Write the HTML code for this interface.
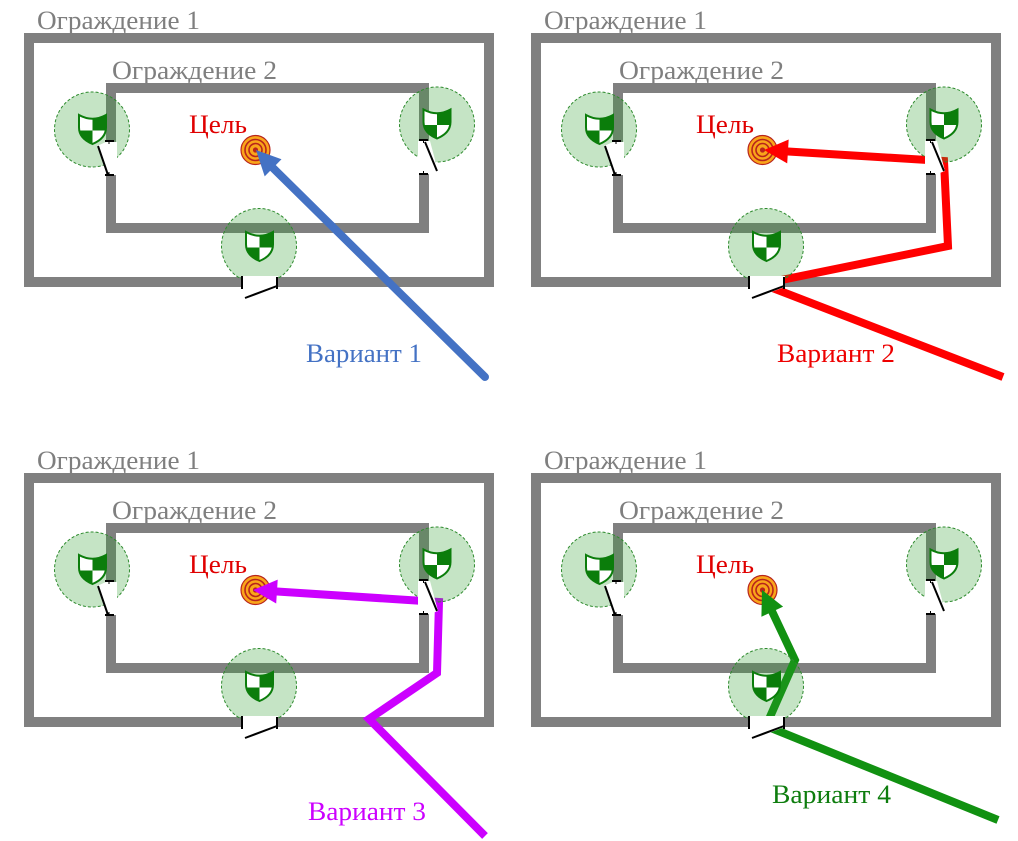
<!DOCTYPE html>
<html><head><meta charset="utf-8">
<style>html,body{margin:0;padding:0;background:#fff}svg{display:block}</style>
</head>
<body>
<svg width="1018" height="841" viewBox="0 0 1018 841" xmlns="http://www.w3.org/2000/svg" xmlns:xlink="http://www.w3.org/1999/xlink">
<defs>
  <clipPath id="sc"><path d="M-13.5,-14.5 Q0,-7 13.5,-14.5 L13.5,-2 C13.5,7 6,12 0,14.5 C-6,12 -13.5,7 -13.5,-2 Z"/></clipPath>
  <g id="shield">
    <path d="M-13.5,-14.5 Q0,-7 13.5,-14.5 L13.5,-2 C13.5,7 6,12 0,14.5 C-6,12 -13.5,7 -13.5,-2 Z" fill="#fff"/>
    <g clip-path="url(#sc)">
      <rect x="0" y="-16" width="15" height="17" fill="#0b7d0b"/>
      <rect x="-15" y="1" width="15" height="15" fill="#0b7d0b"/>
    </g>
    <path d="M-13.5,-14.5 Q0,-7 13.5,-14.5 L13.5,-2 C13.5,7 6,12 0,14.5 C-6,12 -13.5,7 -13.5,-2 Z" fill="none" stroke="#0b7d0b" stroke-width="2"/>
  </g>
  <g id="base">
    <rect x="29" y="38" width="460" height="244" fill="none" stroke="#808080" stroke-width="10"/>
    <rect x="111" y="88" width="313" height="140" fill="none" stroke="#808080" stroke-width="10"/>
    <g transform="translate(255.5,150)">
      <circle r="14.5" fill="#f9a51a" stroke="#b8241c" stroke-width="1.2"/>
      <circle r="10.5" fill="none" stroke="#b8241c" stroke-width="1.6"/>
      <circle r="6.5" fill="none" stroke="#b8241c" stroke-width="1.6"/>
      <circle r="2.6" fill="#b8241c"/>
    </g>
  </g>
  <g id="top">
    <g fill="#2e9e2e" fill-opacity="0.28" stroke="#2e8b2e" stroke-width="1" stroke-dasharray="3 2">
      <circle cx="92" cy="129.5" r="37.5"/>
      <circle cx="437" cy="124.5" r="37.5"/>
      <circle cx="259" cy="246" r="37.5"/>
    </g>
    <use xlink:href="#shield" href="#shield" transform="translate(92.5,129.5)"/>
    <use xlink:href="#shield" href="#shield" transform="translate(437,124)"/>
    <use xlink:href="#shield" href="#shield" transform="translate(259.5,246.5)"/>
    <g fill="#fff">
      <polygon points="117,142 106,142 97,146 107,175 117,175"/>
      <polygon points="418,141 430,141 438,171 430,174 418,174"/>
      <polygon points="241,276 278,276 278,287 245,299 241,289"/>
    </g>
    <g stroke="#000" fill="none">
      <line x1="105" y1="141" x2="114" y2="141" stroke-width="2"/>
      <line x1="109" y1="141" x2="109" y2="144" stroke-width="1"/>
      <line x1="105" y1="175" x2="114" y2="175" stroke-width="2"/>
      <line x1="109" y1="172" x2="109" y2="175" stroke-width="1"/>
      <line x1="98" y1="146" x2="108" y2="175" stroke-width="2"/>

      <line x1="419" y1="140" x2="428" y2="140" stroke-width="2"/>
      <line x1="423.5" y1="140" x2="423.5" y2="143" stroke-width="1"/>
      <line x1="419" y1="174" x2="428" y2="174" stroke-width="2"/>
      <line x1="423.5" y1="171" x2="423.5" y2="174" stroke-width="1"/>
      <line x1="425" y1="142" x2="437" y2="171" stroke-width="2"/>

      <line x1="242" y1="276" x2="242" y2="289" stroke-width="2"/>
      <line x1="277" y1="277" x2="277" y2="289" stroke-width="2"/>
      <line x1="245" y1="298" x2="277" y2="286" stroke-width="2"/>
    </g>
  </g>
</defs>

<g font-family="'Liberation Serif', 'Noto Serif CJK SC', serif" font-size="26">

<!-- Panel 1 -->
<use xlink:href="#base" href="#base"/>
<text x="37" y="29" fill="#7f7f7f" textLength="163" lengthAdjust="spacingAndGlyphs">Ограждение 1</text>
<text x="112" y="79" fill="#7f7f7f" textLength="165" lengthAdjust="spacingAndGlyphs">Ограждение 2</text>
<text x="189" y="133" fill="#e00000" textLength="58" lengthAdjust="spacingAndGlyphs">Цель</text>
<line x1="485" y1="377" x2="271" y2="166" stroke="#4472c4" stroke-width="8" stroke-linecap="round"/>
<polygon points="256,150 281.5,159.3 264.7,176.4" fill="#4472c4"/>
<use xlink:href="#top" href="#top"/>
<text x="306" y="362" fill="#4472c4" textLength="116" lengthAdjust="spacingAndGlyphs">Вариант 1</text>

<!-- Panel 2 -->
<use xlink:href="#base" href="#base" transform="translate(507,0)"/>
<text x="544" y="29" fill="#7f7f7f" textLength="163" lengthAdjust="spacingAndGlyphs">Ограждение 1</text>
<text x="619" y="79" fill="#7f7f7f" textLength="165" lengthAdjust="spacingAndGlyphs">Ограждение 2</text>
<text x="696" y="133" fill="#e00000" textLength="58" lengthAdjust="spacingAndGlyphs">Цель</text>
<polyline points="1003,377 762,284 948,246 944,161 786,151.4" fill="none" stroke="#ff0000" stroke-width="8" stroke-linejoin="miter"/>
<polygon points="764,150 788.7,139.5 787.2,163.4" fill="#ff0000"/>
<use xlink:href="#top" href="#top" transform="translate(507,0)"/>
<text x="777" y="362" fill="#ee0000" textLength="118" lengthAdjust="spacingAndGlyphs">Вариант 2</text>

<!-- Panel 3 -->
<use xlink:href="#base" href="#base" transform="translate(0,440)"/>
<text x="37" y="469" fill="#7f7f7f" textLength="163" lengthAdjust="spacingAndGlyphs">Ограждение 1</text>
<text x="112" y="519" fill="#7f7f7f" textLength="165" lengthAdjust="spacingAndGlyphs">Ограждение 2</text>
<text x="189" y="573" fill="#e00000" textLength="58" lengthAdjust="spacingAndGlyphs">Цель</text>
<polyline points="485,836 369,719 437,673 439,602 275,591.4" fill="none" stroke="#cc00ff" stroke-width="8" stroke-linejoin="miter"/>
<polygon points="253,590 277.7,579.6 276.2,603.5" fill="#cc00ff"/>
<use xlink:href="#top" href="#top" transform="translate(0,440)"/>
<text x="308" y="820" fill="#cc00ff" textLength="118" lengthAdjust="spacingAndGlyphs">Вариант 3</text>

<!-- Panel 4 -->
<use xlink:href="#base" href="#base" transform="translate(507,440)"/>
<text x="544" y="469" fill="#7f7f7f" textLength="163" lengthAdjust="spacingAndGlyphs">Ограждение 1</text>
<text x="619" y="519" fill="#7f7f7f" textLength="165" lengthAdjust="spacingAndGlyphs">Ограждение 2</text>
<text x="696" y="573" fill="#e00000" textLength="58" lengthAdjust="spacingAndGlyphs">Цель</text>
<polyline points="998,820 766,726 795,660 771.4,610" fill="none" stroke="#119111" stroke-width="8" stroke-linejoin="miter"/>
<polygon points="762,590 783.1,606.6 761.4,616.8" fill="#119111"/>
<use xlink:href="#top" href="#top" transform="translate(507,440)"/>
<text x="772" y="803" fill="#0e7d0e" textLength="119" lengthAdjust="spacingAndGlyphs">Вариант 4</text>

</g>
</svg>
</body>
</html>
